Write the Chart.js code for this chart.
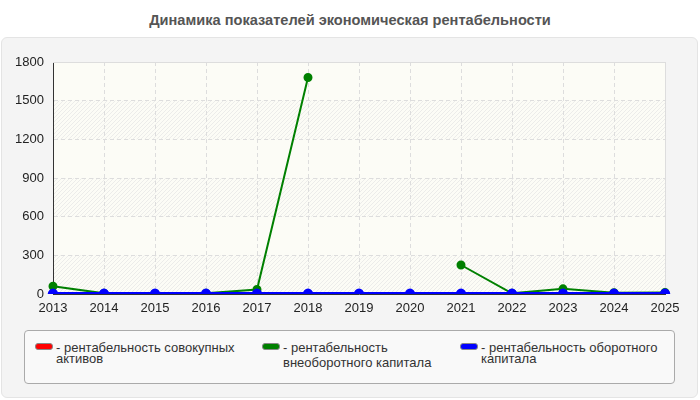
<!DOCTYPE html>
<html lang="ru">
<head>
    <meta charset="UTF-8">
    <title>Динамика показателей экономическая рентабельности</title>
    <script src="https://cdn.jsdelivr.net/npm/chart.js"></script>
    <style>
        body {
            margin: 0;
            width: 700px;
            height: 400px;
            background: #fff;
            font-family: "Liberation Sans", Arial, sans-serif;
            position: relative;
            overflow: hidden;
        }
        #title {
            position: absolute;
            top: 12px;
            left: 0;
            width: 700px;
            text-align: center;
            font-weight: bold;
            font-size: 14.6px;
            color: #555;
        }
        #panel {
            position: absolute;
            left: 1px;
            top: 37px;
            width: 695px;
            height: 359px;
            background: #f4f4f4;
            border: 1px solid #e4e4e4;
            border-radius: 6px;
        }
        #myChart {
            position: absolute;
            left: 0;
            top: 0;
        }
        #legend {
            position: absolute;
            left: 24px;
            top: 330px;
            width: 649px;
            height: 52px;
            background: #f9f9f9;
            border: 1px solid #aaa;
            border-radius: 4px;
        }
        .item {
            position: absolute;
            top: 12px;
            font-size: 13px;
            line-height: 11px;
            color: #333;
        }
        .swatch {
            position: absolute;
            left: 0;
            top: 0;
            width: 16px;
            height: 5px;
            border: 1px solid #888;
            border-radius: 3px;
        }
        .text {
            position: absolute;
            left: 21px;
            top: -1px;
        }
    </style>
</head>
<body>
    <div id="title">Динамика показателей экономическая рентабельности</div>
    <div id="panel"></div>
    <canvas id="myChart" width="700" height="400"></canvas>
    <div id="legend"></div>

    <script>
        const years = ['2013', '2014', '2015', '2016', '2017', '2018', '2019',
                       '2020', '2021', '2022', '2023', '2024', '2025'];
        const seriesNames = [
            'рентабельность совокупных активов',
            'рентабельность внеоборотного капитала',
            'рентабельность оборотного капитала'
        ];
        const totalAssets = [2, 1, 1, 1, 2, 3, 1, 1, 2, 1, 2, 1, 1];
        const fixedCapital = [60, 5, 3, 5, 35, 1680, null, null, 225, 5, 40, 10, 12];
        const workingCapital = [1, 1, 1, 1, 1, 1, 1, 1, 1, 1, 1, 1, 1];
        const yTicks = [0, 300, 600, 900, 1200, 1500, 1800];

        const colors = ['#ff0000', '#008000', '#0000ff'];

        // plot background: pale fill with hatched bands every other step
        const bgPlugin = {
            id: 'plotBg',
            beforeDraw(chart) {
                const { ctx, chartArea: a, scales } = chart;
                ctx.save();
                ctx.fillStyle = '#fcfcf6';
                ctx.fillRect(a.left, a.top, a.right - a.left, a.bottom - a.top);

                const pc = document.createElement('canvas');
                pc.width = 4; pc.height = 4;
                const p = pc.getContext('2d');
                p.strokeStyle = '#ececea';
                p.lineWidth = 1;
                p.beginPath();
                p.moveTo(0, 4); p.lineTo(4, 0);
                p.stroke();
                ctx.fillStyle = ctx.createPattern(pc, 'repeat');
                for (let i = 0; i < yTicks.length - 1; i += 2) {
                    const y1 = scales.y.getPixelForValue(yTicks[i]);
                    const y2 = scales.y.getPixelForValue(yTicks[i + 1]);
                    ctx.fillRect(a.left, y2, a.right - a.left, y1 - y2);
                }
                ctx.restore();
            },
            beforeDatasetsDraw(chart) {
                const { ctx, chartArea: a } = chart;
                ctx.save();
                ctx.strokeStyle = '#dddddd';
                ctx.lineWidth = 1;
                ctx.beginPath();
                ctx.moveTo(a.left, a.top + 0.5);
                ctx.lineTo(a.right + 0.5, a.top + 0.5);
                ctx.lineTo(a.right + 0.5, a.bottom);
                ctx.stroke();
                ctx.restore();
            }
        };

        const tickFont = { family: 'Liberation Sans', size: 13 };

        const ctx = document.getElementById('myChart').getContext('2d');
        const chart = new Chart(ctx, {
            type: 'line',
            data: {
                labels: years,
                datasets: [
                    { label: seriesNames[0], data: totalAssets, borderColor: colors[0], backgroundColor: colors[0],
                      borderWidth: 2, pointRadius: 3, order: 3 },
                    { label: seriesNames[1], data: fixedCapital, borderColor: colors[1], backgroundColor: colors[1],
                      borderWidth: 2, pointRadius: 3.5, order: 2 },
                    { label: seriesNames[2], data: workingCapital, borderColor: colors[2], backgroundColor: colors[2],
                      borderWidth: 3.5, pointRadius: 3.5, order: 1 }
                ]
            },
            options: {
                responsive: false,
                animation: false,
                devicePixelRatio: 1,
                layout: { padding: { top: 62, left: 0, right: 35, bottom: 86 } },
                plugins: {
                    legend: { display: false },
                    title: { display: false },
                    tooltip: { enabled: false }
                },
                scales: {
                    x: {
                        afterFit(s) { s.height = 20; },
                        grid: { color: '#dddddd', drawTicks: false },
                        border: { color: '#333', width: 1, dash: [4, 3] },
                        ticks: { color: '#222', font: tickFont, padding: 7, maxRotation: 0, autoSkip: false }
                    },
                    y: {
                        min: 0,
                        max: 1800,
                        afterFit(s) { s.width = 53; },
                        afterBuildTicks(s) { s.ticks = yTicks.map(v => ({ value: v })); },
                        grid: { color: '#dddddd', drawTicks: false },
                        border: { color: '#333', width: 1, dash: [4, 3] },
                        ticks: { color: '#222', font: tickFont, padding: 9, callback: v => String(v) }
                    }
                }
            },
            plugins: [bgPlugin]
        });

        // html legend built from the datasets
        const legend = document.getElementById('legend');
        const lefts = [10, 237, 435];
        const textWidths = [185, 165, 185];
        chart.data.datasets.forEach((ds, i) => {
            const item = document.createElement('div');
            item.className = 'item';
            item.style.left = lefts[i] + 'px';
            if (i === 1) item.style.lineHeight = '15px';
            item.innerHTML = '<span class="swatch" style="background:' + ds.borderColor + '"></span>' +
                             '<span class="text" style="width:' + textWidths[i] + 'px;top:' + (i === 1 ? -3 : -1) + 'px">- ' + ds.label + '</span>';
            legend.appendChild(item);
        });
    </script>
</body>
</html>
